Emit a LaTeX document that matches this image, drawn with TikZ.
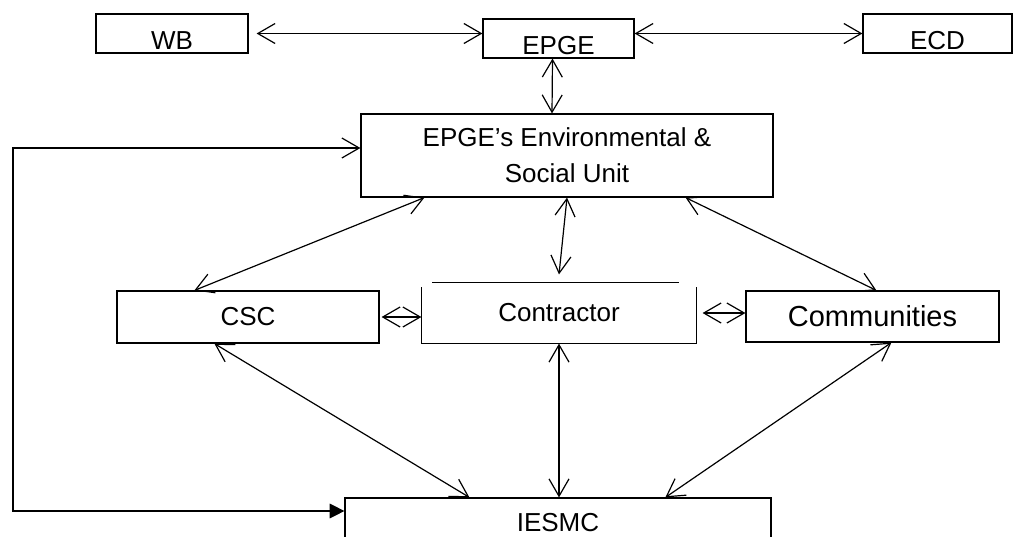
\documentclass[tikz,border=0pt]{standalone}
\usepackage{fontspec}
\setmainfont{Liberation Sans}
\usetikzlibrary{arrows.meta,calc}
\begin{document}
\begin{tikzpicture}[x=0.75pt,y=0.75pt,yscale=-1,xscale=1,
	box/.style={draw, line width=0.9pt, inner sep=0pt, font=\fontsize{19.5}{27}\selectfont, align=center},
	topbox/.style={box, minimum height=29.25pt, text height=25pt, text depth=1pt},
	dbl/.style={line width=0.9pt, {Straight Barb[length=13pt,width=15pt]}-{Straight Barb[length=13pt,width=15pt]}}]
\useasboundingbox (0,0) rectangle (1014,536);
\clip (0,0) rectangle (1014,536);
%Top row
\node (wb) at (172,33.5) [topbox, minimum width=114pt] {WB};
\node (epge) at (558.5,38.5) [topbox, minimum width=113.25pt] {EPGE};
\node (ecd) at (937.5,33.5) [topbox, minimum width=111.75pt] {ECD};
%Unit
\node (esu) at (567,155.5) [box, minimum width=309pt, minimum height=62.25pt] {EPGE’s Environmental \&\\Social Unit};
%Middle row
\node (csc) at (248,317) [box, minimum width=196.5pt, minimum height=39pt] {CSC};
\node (con) at (559,313) [box, draw=none, minimum width=205.5pt, minimum height=45pt] {Contractor};
\node (com) at (872.5,316.5) [box, minimum width=189.75pt, minimum height=38.25pt, font=\fontsize{21.75}{27}\selectfont] {Communities};
%Bottom
\node (iesmc) at (558,522.5) [box, minimum width=319.5pt, minimum height=36.75pt] {IESMC};
%Contractor outline
\draw [line width=0.9pt] ($(con.north west)+(11,0)$) -- ($(con.north east)+(-18,0)$);
\draw [line width=0.9pt] ($(con.north west)+(0,5)$) -- (con.south west) -- (con.south east) -- ($(con.north east)+(0,5)$);
%Links
\draw [dbl] ([xshift=6pt]wb.east) -- (wb.east -| epge.west);
\draw [dbl] (epge.east |- ecd.west) -- (ecd.west);
\draw [dbl] ($(epge.south)+(-6,0)$) -- ($(esu.north)+(-15,0)$);
\draw [dbl] ($(esu.south west)+(64,0)$) -- ($(csc.north west)+(78,0)$);
\draw [dbl] (esu.south) -- ($(con.north)+(0,-8)$);
\draw [dbl] ($(esu.south east)+(-88,0)$) -- ($(com.north west)+(131,0)$);
\draw [dbl] ([xshift=1.5pt]csc.east) -- (csc.east -| con.west);
\draw [dbl] ([xshift=4.5pt]con.east) -- (con.east -| com.west);
\draw [dbl] ($(csc.south west)+(98,0)$) -- ($(iesmc.north west)+(125,0)$);
\draw [dbl] (con.south) -- (con.south |- iesmc.north);
\draw [dbl] ($(com.south west)+(146,0)$) -- ($(iesmc.north west)+(321,0)$);
%Loop on the left
\coordinate (loopT) at (13,148);
\coordinate (loopB) at (13,511);
\draw [line width=0.9pt, {Straight Barb[length=13pt,width=15pt]}-{Triangle[length=11pt,width=11pt]}] (esu.west |- loopT) -- (loopT) -- (loopB) -- (loopB -| iesmc.west);
\end{tikzpicture}
\end{document}
